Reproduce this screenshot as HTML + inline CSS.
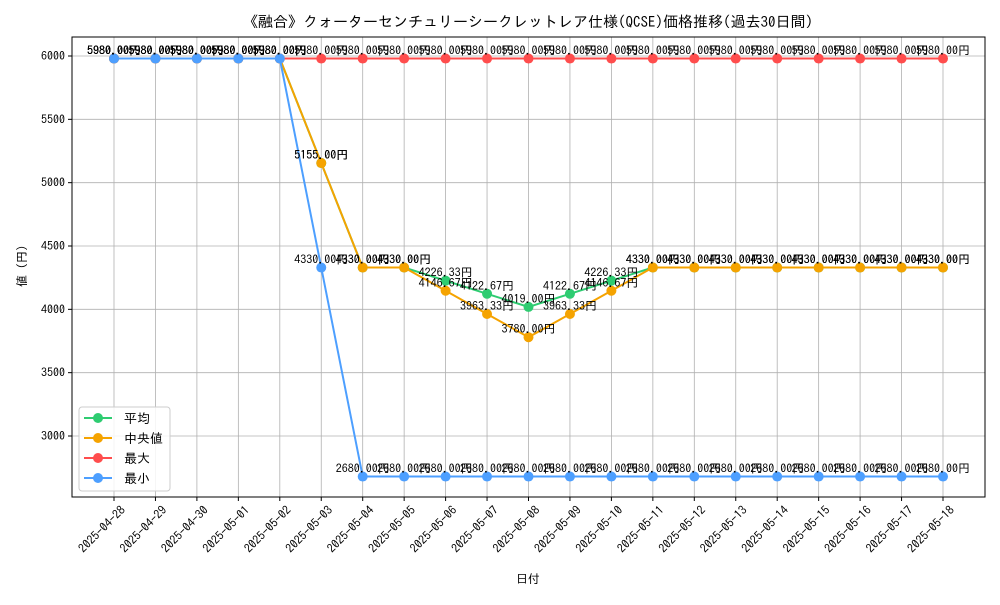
<!DOCTYPE html>
<html><head><meta charset="utf-8"><style>
body{margin:0;background:#fff}
svg{font-family:"IPAGothic","Liberation Sans",sans-serif}
</style></head><body>
<svg id="c" width="1000" height="600" xmlns="http://www.w3.org/2000/svg"></svg>
<script>
const categories=["2025-04-28","2025-04-29","2025-04-30","2025-05-01","2025-05-02","2025-05-03","2025-05-04","2025-05-05","2025-05-06","2025-05-07","2025-05-08","2025-05-09","2025-05-10","2025-05-11","2025-05-12","2025-05-13","2025-05-14","2025-05-15","2025-05-16","2025-05-17","2025-05-18"];
const avgValues=[5980,5980,5980,5980,5980,5155,4330,4330,4226.33,4122.67,4019,4122.67,4226.33,4330,4330,4330,4330,4330,4330,4330,4330];
const medianValues=[5980,5980,5980,5980,5980,5155,4330,4330,4146.67,3963.33,3780,3963.33,4146.67,4330,4330,4330,4330,4330,4330,4330,4330];
const maxValues=[5980,5980,5980,5980,5980,5980,5980,5980,5980,5980,5980,5980,5980,5980,5980,5980,5980,5980,5980,5980,5980];
const minValues=[5980,5980,5980,5980,5980,4330,2680,2680,2680,2680,2680,2680,2680,2680,2680,2680,2680,2680,2680,2680,2680];
const yTicks=[3000,3500,4000,4500,5000,5500,6000];
const seriesNames=["平均","中央値","最大","最小"];
const seriesColors=["#2ecc71","#f5a300","#ff4d4d","#4d9fff"];
const NS="http://www.w3.org/2000/svg";
const svg=document.getElementById('c');
const L=72,R=985,T=37,B=497;
const x=i=>114+i*(943-114)/(categories.length-1);
const y=v=>56+(6000-v)*(380/3000);
function el(t,a,p){const e=document.createElementNS(NS,t);for(const k in a)e.setAttribute(k,a[k]);(p||svg).appendChild(e);return e;}
const grid=el('g',{});


categories.forEach((c,i)=>{
  const l=el('line',{x1:x(i),x2:x(i),y1:T,y2:B,stroke:'#b0b0b0','stroke-width':0.8},grid);
  
  
  el('line',{x1:x(i),x2:x(i),y1:B,y2:B+4,stroke:'#000'});
  const t=el('text',{x:0,y:0,'font-size':12,'text-anchor':'end',transform:`translate(${x(i)+6},${B+8}) rotate(-45)`,dy:'0.7em'});
  t.textContent=c;
  
  
});
yTicks.forEach(v=>{
  const l=el('line',{x1:L,x2:R,y1:y(v),y2:y(v),stroke:'#b0b0b0','stroke-width':0.8},grid);
  
  
  el('line',{x1:L-4,x2:L,y1:y(v),y2:y(v),stroke:'#000'});
  const t=el('text',{x:L-7,y:y(v)+4,'font-size':12,'text-anchor':'end'});
  t.textContent=v;
  
  
});
const ax=el('rect',{x:L,y:T,width:R-L,height:B-T,fill:'none',stroke:'#000','stroke-width':1});


const all=[avgValues,medianValues,maxValues,minValues];
all.forEach((vals,s)=>{
  const g=el('g',{});
  
  
  el('polyline',{points:vals.map((v,i)=>x(i)+','+y(v)).join(' '),fill:'none',stroke:seriesColors[s],'stroke-width':2},g);
  vals.forEach((v,i)=>{
    const c=el('circle',{cx:x(i),cy:y(v),r:5,fill:seriesColors[s]},g);
    
    
  });
});
all.forEach((vals,s)=>{
  vals.forEach((v,i)=>{
    const t=el('text',{x:x(i),y:y(v)-4,'font-size':12,'text-anchor':'middle',fill:'#000'});
    t.textContent=v.toFixed(2)+'円';
    
    
  });
});
const title=el('text',{x:528,y:27,'font-size':15,'text-anchor':'middle'});
title.textContent='《融合》クォーターセンチュリーシークレットレア仕様(QCSE)価格推移(過去30日間)';


const xt=el('text',{x:528,y:583,'font-size':12,'text-anchor':'middle'});
xt.textContent='日付';


const yt=el('text',{x:0,y:0,'font-size':12,'text-anchor':'middle',transform:'translate(26,266) rotate(-90)'});
yt.textContent='値 (円)';


const lg=el('g',{});


el('rect',{x:79,y:407,width:91,height:84,rx:3,fill:'#fff','fill-opacity':0.85,stroke:'#ccc'},lg);
seriesNames.forEach((n,s)=>{
  const yy=418+s*20;
  const e=el('g',{},lg);
  
  
  el('line',{x1:84,x2:112,y1:yy,y2:yy,stroke:seriesColors[s],'stroke-width':2},e);
  el('circle',{cx:98,cy:yy,r:5,fill:seriesColors[s]},e);
  const t=el('text',{x:124,y:yy+5,'font-size':13},e);
  t.textContent=n;
});
</script>
</body></html>
